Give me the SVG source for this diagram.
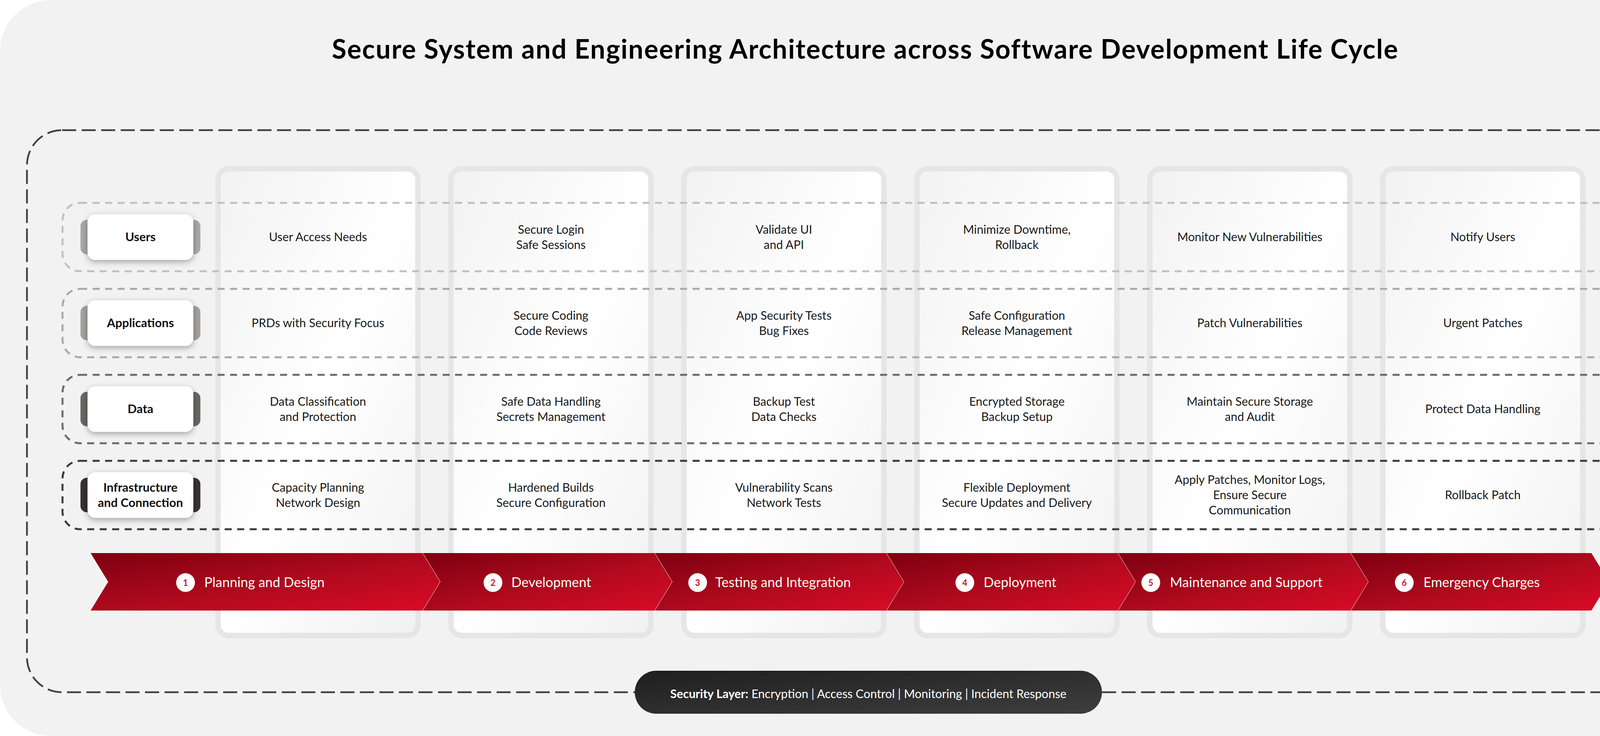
<svg xmlns="http://www.w3.org/2000/svg" width="4356" height="1883" viewBox="0 0 4356 1883">
<defs>
<linearGradient id="colGrad" x1="0" y1="0" x2="1" y2="1">
<stop offset="0" stop-color="#f2f2f2"/><stop offset="0.5" stop-color="#ffffff"/><stop offset="1" stop-color="#f1f1f1"/>
</linearGradient>
<linearGradient id="redGrad" x1="0" y1="0" x2="1" y2="1">
<stop offset="0" stop-color="#7c0010"/><stop offset="0.55" stop-color="#b20a1e"/><stop offset="1" stop-color="#da0b26"/>
</linearGradient>
<linearGradient id="pillGrad" x1="0" y1="0" x2="1" y2="1">
<stop offset="0" stop-color="#1f1f1f"/><stop offset="1" stop-color="#3e3e3e"/>
</linearGradient>
<filter id="cardShadow" x="-20%" y="-40%" width="140%" height="180%">
<feDropShadow dx="0" dy="5" stdDeviation="8" flood-color="#000" flood-opacity="0.33"/>
</filter>
<style>
.col{fill:url(#colGrad);stroke:#e6e6e6;stroke-width:14}
.band{fill:none;stroke-width:5;stroke-dasharray:18 14}
.card{fill:#ffffff;filter:url(#cardShadow)}
.lbl{font-family:Lato,"Noto Sans",sans-serif;font-weight:700;font-size:31px;fill:#111;text-anchor:middle}
.txt{font-family:Lato,"Noto Sans",sans-serif;font-size:30.3px;fill:#1a1a1a;text-anchor:middle}
.seg{fill:url(#redGrad)}
.seam{fill:none;stroke:#ffffff;stroke-opacity:0.45;stroke-width:1.5}
.ph{font-family:Lato,"Noto Sans",sans-serif;font-size:34.5px;fill:#ffffff}
.num{font-family:Lato,"Noto Sans",sans-serif;font-weight:700;font-size:22px;fill:#c8102e;text-anchor:middle}
</style>
</defs>

<rect x="0" y="0" width="4356" height="1883" fill="#ffffff"/>
<rect id="background" x="0" y="0" width="4356" height="1883" rx="130" fill="#f2f2f2"/>

<text id="title" x="2215" y="150" font-family="Lato,'Noto Sans',sans-serif" font-weight="700" font-size="68" letter-spacing="2" fill="#000" text-anchor="middle">Secure System and Engineering Architecture across Software Development Life Cycle</text>

<rect id="outer-boundary" x="69" y="333" width="4209" height="1438" rx="90" fill="none" stroke="#404040" stroke-width="4.5" stroke-dasharray="36 14"/>

<g id="columns">
<rect id="col-1" class="col" x="558" y="432" width="512" height="1194" rx="27"/>
<rect id="col-2" class="col" x="1154.4" y="432" width="512" height="1194" rx="27"/>
<rect id="col-3" class="col" x="1750.8" y="432" width="512" height="1194" rx="27"/>
<rect id="col-4" class="col" x="2347.2" y="432" width="512" height="1194" rx="27"/>
<rect id="col-5" class="col" x="2943.6" y="432" width="512" height="1194" rx="27"/>
<rect id="col-6" class="col" x="3540" y="432" width="512" height="1194" rx="27"/>
</g>

<g id="bands">
<rect id="band-users" class="band" x="160" y="519" width="4027" height="175" rx="45" stroke="#c0c0c0"/>
<rect id="band-applications" class="band" x="160" y="739" width="4027" height="175" rx="45" stroke="#aba8a8"/>
<rect id="band-data" class="band" x="160" y="959" width="4027" height="175" rx="45" stroke="#6e6a6a"/>
<rect id="band-infra" class="band" x="160" y="1179" width="4027" height="175" rx="45" stroke="#3b3b3b"/>
</g>

<g id="connectors"></g>

<g id="label-users">
<rect x="206" y="562.5" width="307" height="88" rx="16" fill="#a9a9a9"/>
<rect class="card" x="224" y="548" width="271" height="117" rx="20"/>
<text class="lbl" x="359.5" y="617">Users</text>
</g>
<g id="label-applications">
<rect x="206" y="782.5" width="307" height="88" rx="16" fill="#a5a1a1"/>
<rect class="card" x="224" y="768" width="271" height="117" rx="20"/>
<text class="lbl" x="359.5" y="837">Applications</text>
</g>
<g id="label-data">
<rect x="206" y="1002.5" width="307" height="88" rx="16" fill="#6a6666"/>
<rect class="card" x="224" y="988" width="271" height="117" rx="20"/>
<text class="lbl" x="359.5" y="1057">Data</text>
</g>
<g id="label-infra">
<rect x="206" y="1222.5" width="307" height="88" rx="16" fill="#353232"/>
<rect class="card" x="224" y="1208" width="271" height="117" rx="20"/>
<text class="lbl" x="359.5" y="1258">Infrastructure</text>
<text class="lbl" x="359.5" y="1297">and Connection</text>
</g>

<g id="cells">
<g id="cell-1-1"><text class="txt" x="814" y="617">User Access Needs</text></g>
<g id="cell-1-2"><text class="txt" x="814" y="837">PRDs with Security Focus</text></g>
<g id="cell-1-3"><text class="txt" x="814" y="1038">Data Classification</text><text class="txt" x="814" y="1077">and Protection</text></g>
<g id="cell-1-4"><text class="txt" x="814" y="1258">Capacity Planning</text><text class="txt" x="814" y="1297">Network Design</text></g>

<g id="cell-2-1"><text class="txt" x="1410.4" y="598">Secure Login</text><text class="txt" x="1410.4" y="637">Safe Sessions</text></g>
<g id="cell-2-2"><text class="txt" x="1410.4" y="818">Secure Coding</text><text class="txt" x="1410.4" y="857">Code Reviews</text></g>
<g id="cell-2-3"><text class="txt" x="1410.4" y="1038">Safe Data Handling</text><text class="txt" x="1410.4" y="1077">Secrets Management</text></g>
<g id="cell-2-4"><text class="txt" x="1410.4" y="1258">Hardened Builds</text><text class="txt" x="1410.4" y="1297">Secure Configuration</text></g>

<g id="cell-3-1"><text class="txt" x="2006.8" y="598">Validate UI</text><text class="txt" x="2006.8" y="637">and API</text></g>
<g id="cell-3-2"><text class="txt" x="2006.8" y="818">App Security Tests</text><text class="txt" x="2006.8" y="857">Bug Fixes</text></g>
<g id="cell-3-3"><text class="txt" x="2006.8" y="1038">Backup Test</text><text class="txt" x="2006.8" y="1077">Data Checks</text></g>
<g id="cell-3-4"><text class="txt" x="2006.8" y="1258">Vulnerability Scans</text><text class="txt" x="2006.8" y="1297">Network Tests</text></g>

<g id="cell-4-1"><text class="txt" x="2603.2" y="598">Minimize Downtime,</text><text class="txt" x="2603.2" y="637">Rollback</text></g>
<g id="cell-4-2"><text class="txt" x="2603.2" y="818">Safe Configuration</text><text class="txt" x="2603.2" y="857">Release Management</text></g>
<g id="cell-4-3"><text class="txt" x="2603.2" y="1038">Encrypted Storage</text><text class="txt" x="2603.2" y="1077">Backup Setup</text></g>
<g id="cell-4-4"><text class="txt" x="2603.2" y="1258">Flexible Deployment</text><text class="txt" x="2603.2" y="1297">Secure Updates and Delivery</text></g>

<g id="cell-5-1"><text class="txt" x="3199.6" y="617">Monitor New Vulnerabilities</text></g>
<g id="cell-5-2"><text class="txt" x="3199.6" y="837">Patch Vulnerabilities</text></g>
<g id="cell-5-3"><text class="txt" x="3199.6" y="1038">Maintain Secure Storage</text><text class="txt" x="3199.6" y="1077">and Audit</text></g>
<g id="cell-5-4"><text class="txt" x="3199.6" y="1238">Apply Patches, Monitor Logs,</text><text class="txt" x="3199.6" y="1277">Ensure Secure</text><text class="txt" x="3199.6" y="1316">Communication</text></g>

<g id="cell-6-1"><text class="txt" x="3796" y="617">Notify Users</text></g>
<g id="cell-6-2"><text class="txt" x="3796" y="837">Urgent Patches</text></g>
<g id="cell-6-3"><text class="txt" x="3796" y="1057">Protect Data Handling</text></g>
<g id="cell-6-4"><text class="txt" x="3796" y="1277">Rollback Patch</text></g>
</g>

<g id="phases">
<g id="phase-1">
<polygon class="seg" points="232,1415 1082,1415 1127,1488.5 1082,1562 232,1562 277,1488.5"/>
<circle cx="475" cy="1490.5" r="24" fill="#fff"/><text class="num" x="475" y="1498.5">1</text>
<text class="ph" x="523" y="1502">Planning and Design</text>
</g>
<g id="phase-2">
<polygon class="seg" points="1082,1415 1676,1415 1721,1488.5 1676,1562 1082,1562 1127,1488.5"/>
<polyline class="seam" points="1082,1415 1127,1488.5 1082,1562"/>
<circle cx="1262" cy="1490.5" r="24" fill="#fff"/><text class="num" x="1262" y="1498.5">2</text>
<text class="ph" x="1309" y="1502">Development</text>
</g>
<g id="phase-3">
<polygon class="seg" points="1676,1415 2269,1415 2314,1488.5 2269,1562 1676,1562 1721,1488.5"/>
<polyline class="seam" points="1676,1415 1721,1488.5 1676,1562"/>
<circle cx="1786" cy="1490.5" r="24" fill="#fff"/><text class="num" x="1786" y="1498.5">3</text>
<text class="ph" x="1831" y="1502">Testing and Integration</text>
</g>
<g id="phase-4">
<polygon class="seg" points="2269,1415 2862,1415 2907,1488.5 2862,1562 2269,1562 2314,1488.5"/>
<polyline class="seam" points="2269,1415 2314,1488.5 2269,1562"/>
<circle cx="2470" cy="1490.5" r="24" fill="#fff"/><text class="num" x="2470" y="1498.5">4</text>
<text class="ph" x="2518" y="1502">Deployment</text>
</g>
<g id="phase-5">
<polygon class="seg" points="2862,1415 3458,1415 3503,1488.5 3458,1562 2862,1562 2907,1488.5"/>
<polyline class="seam" points="2862,1415 2907,1488.5 2862,1562"/>
<circle cx="2946" cy="1490.5" r="24" fill="#fff"/><text class="num" x="2946" y="1498.5">5</text>
<text class="ph" x="2995" y="1502">Maintenance and Support</text>
</g>
<g id="phase-6">
<polygon class="seg" points="3458,1415 4074,1415 4119,1488.5 4074,1562 3458,1562 3503,1488.5"/>
<polyline class="seam" points="3458,1415 3503,1488.5 3458,1562"/>
<circle cx="3595" cy="1490.5" r="24" fill="#fff"/><text class="num" x="3595" y="1498.5">6</text>
<text class="ph" x="3644" y="1502">Emergency Charges</text>
</g>
</g>

<g id="security-layer">
<rect x="1625" y="1716" width="1196" height="110" rx="55" fill="url(#pillGrad)"/>
<text x="2223" y="1786" font-family="Lato,'Noto Sans',sans-serif" font-size="30.5" fill="#fff" text-anchor="middle"><tspan font-weight="700">Security Layer:</tspan> Encryption | Access Control | Monitoring | Incident Response</text>
</g>
</svg>
